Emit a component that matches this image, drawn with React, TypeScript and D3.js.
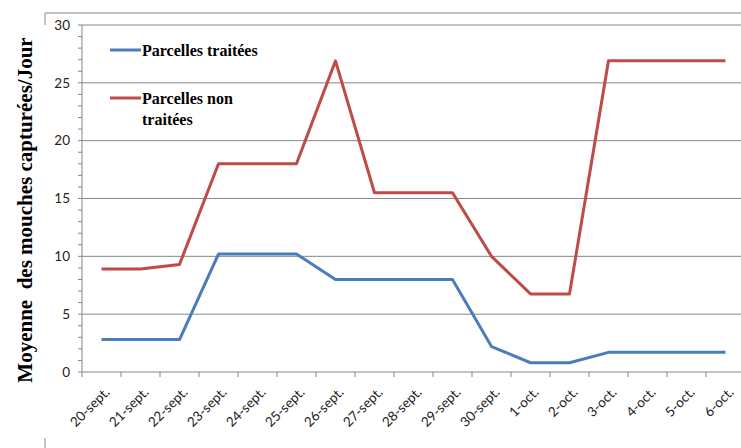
import React from 'react';
import * as d3 from 'd3';

const categories = [
  '20-sept.', '21-sept.', '22-sept.', '23-sept.', '24-sept.', '25-sept.', '26-sept.',
  '27-sept.', '28-sept.', '29-sept.', '30-sept.', '1-oct.', '2-oct.', '3-oct.',
  '4-oct.', '5-oct.', '6-oct.',
];
const traitees = [2.8, 2.8, 2.8, 10.2, 10.2, 10.2, 8.0, 8.0, 8.0, 8.0, 2.2, 0.8, 0.8, 1.7, 1.7, 1.7, 1.7];
const nonTraitees = [8.9, 8.9, 9.3, 18.0, 18.0, 18.0, 26.9, 15.5, 15.5, 15.5, 10.0, 6.75, 6.75, 26.9, 26.9, 26.9, 26.9];
const yTicks = [0, 5, 10, 15, 20, 25, 30];

const W = 741;
const H = 448;
const BLUE = '#4a7ebb';
const RED = '#be4b48';
const GRID = '#868686';
const SERIF = 'Liberation Serif, DejaVu Serif, serif';
const SANS = 'Lato, Open Sans, sans-serif';

const App = () => {
  const margin = { top: 25, left: 82, bottom: 372, right: 745 };

  const x = d3.scaleBand<string>().domain(categories).range([margin.left, margin.right]).padding(0);
  const y = d3.scaleLinear().domain([0, 30]).range([margin.bottom, margin.top]);
  const cx = (c: string) => (x(c) as number) + x.bandwidth() / 2;

  const line = d3.line<number>()
    .x((_, i) => cx(categories[i]))
    .y(d => y(d));

  const minorTicks = d3.range(0, 31, 1);
  const bounds = categories.map(c => x(c) as number);

  return (
    <svg width={W} height={H} style={{ position: 'fixed', left: 0, top: 0, background: '#fff' }}>
      {/* chart border */}
      <line x1={45} x2={W} y1={13} y2={13} stroke={GRID} />
      <line x1={45} x2={45} y1={13} y2={25} stroke={GRID} />
      <line x1={45} x2={45} y1={438} y2={H} stroke={GRID} />

      {/* gridlines */}
      {yTicks.map(t => (
        <line key={'g' + t} x1={margin.left} x2={margin.right} y1={y(t)} y2={y(t)} stroke={GRID} strokeWidth={1} />
      ))}
      {/* y axis */}
      <line x1={margin.left} x2={margin.left} y1={margin.top} y2={margin.bottom} stroke={GRID} />
      {minorTicks.map(t => (
        <line key={'m' + t} x1={margin.left - 4} x2={margin.left} y1={y(t)} y2={y(t)} stroke={GRID} />
      ))}
      {yTicks.map(t => (
        <text key={'l' + t} x={70} y={y(t)} dy="0.35em" textAnchor="end"
          style={{ fontFamily: SANS }} fontSize={13.5} fill="#222">{t}</text>
      ))}

      {/* x axis ticks */}
      {bounds.map((b, i) => (
        <line key={'xt' + i} x1={b} x2={b} y1={margin.bottom} y2={margin.bottom + 5} stroke={GRID} />
      ))}
      {categories.map(c => (
        <text key={'xl' + c} transform={`translate(${cx(c) + 9},${margin.bottom + 21}) rotate(-45)`}
          textAnchor="end" style={{ fontFamily: SANS }} fontSize={13.5} fill="#222">{c}</text>
      ))}

      {/* series */}
      <path d={line(traitees) as string} fill="none" stroke={BLUE} strokeWidth={3} strokeLinejoin="round" />
      <path d={line(nonTraitees) as string} fill="none" stroke={RED} strokeWidth={3} strokeLinejoin="round" />

      {/* legend */}
      <line x1={110} x2={141} y1={50} y2={50} stroke={BLUE} strokeWidth={3} />
      <text x={142} y={56} style={{ fontFamily: SERIF, fontWeight: 'bold' }} fontSize={16}>Parcelles traitées</text>
      <line x1={110} x2={141} y1={98} y2={98} stroke={RED} strokeWidth={3} />
      <text x={142} y={104} style={{ fontFamily: SERIF, fontWeight: 'bold' }} fontSize={16}>Parcelles non</text>
      <text x={142} y={125} style={{ fontFamily: SERIF, fontWeight: 'bold' }} fontSize={16}>traitées</text>

      {/* y axis title */}
      <text transform="translate(32,210) rotate(-90)" textAnchor="middle"
        style={{ fontFamily: SERIF, fontWeight: 'bold', whiteSpace: 'pre' }} fontSize={21} fill="#000">
        Moyenne  des mouches capturées/Jour
      </text>
    </svg>
  );
};

export default App;
